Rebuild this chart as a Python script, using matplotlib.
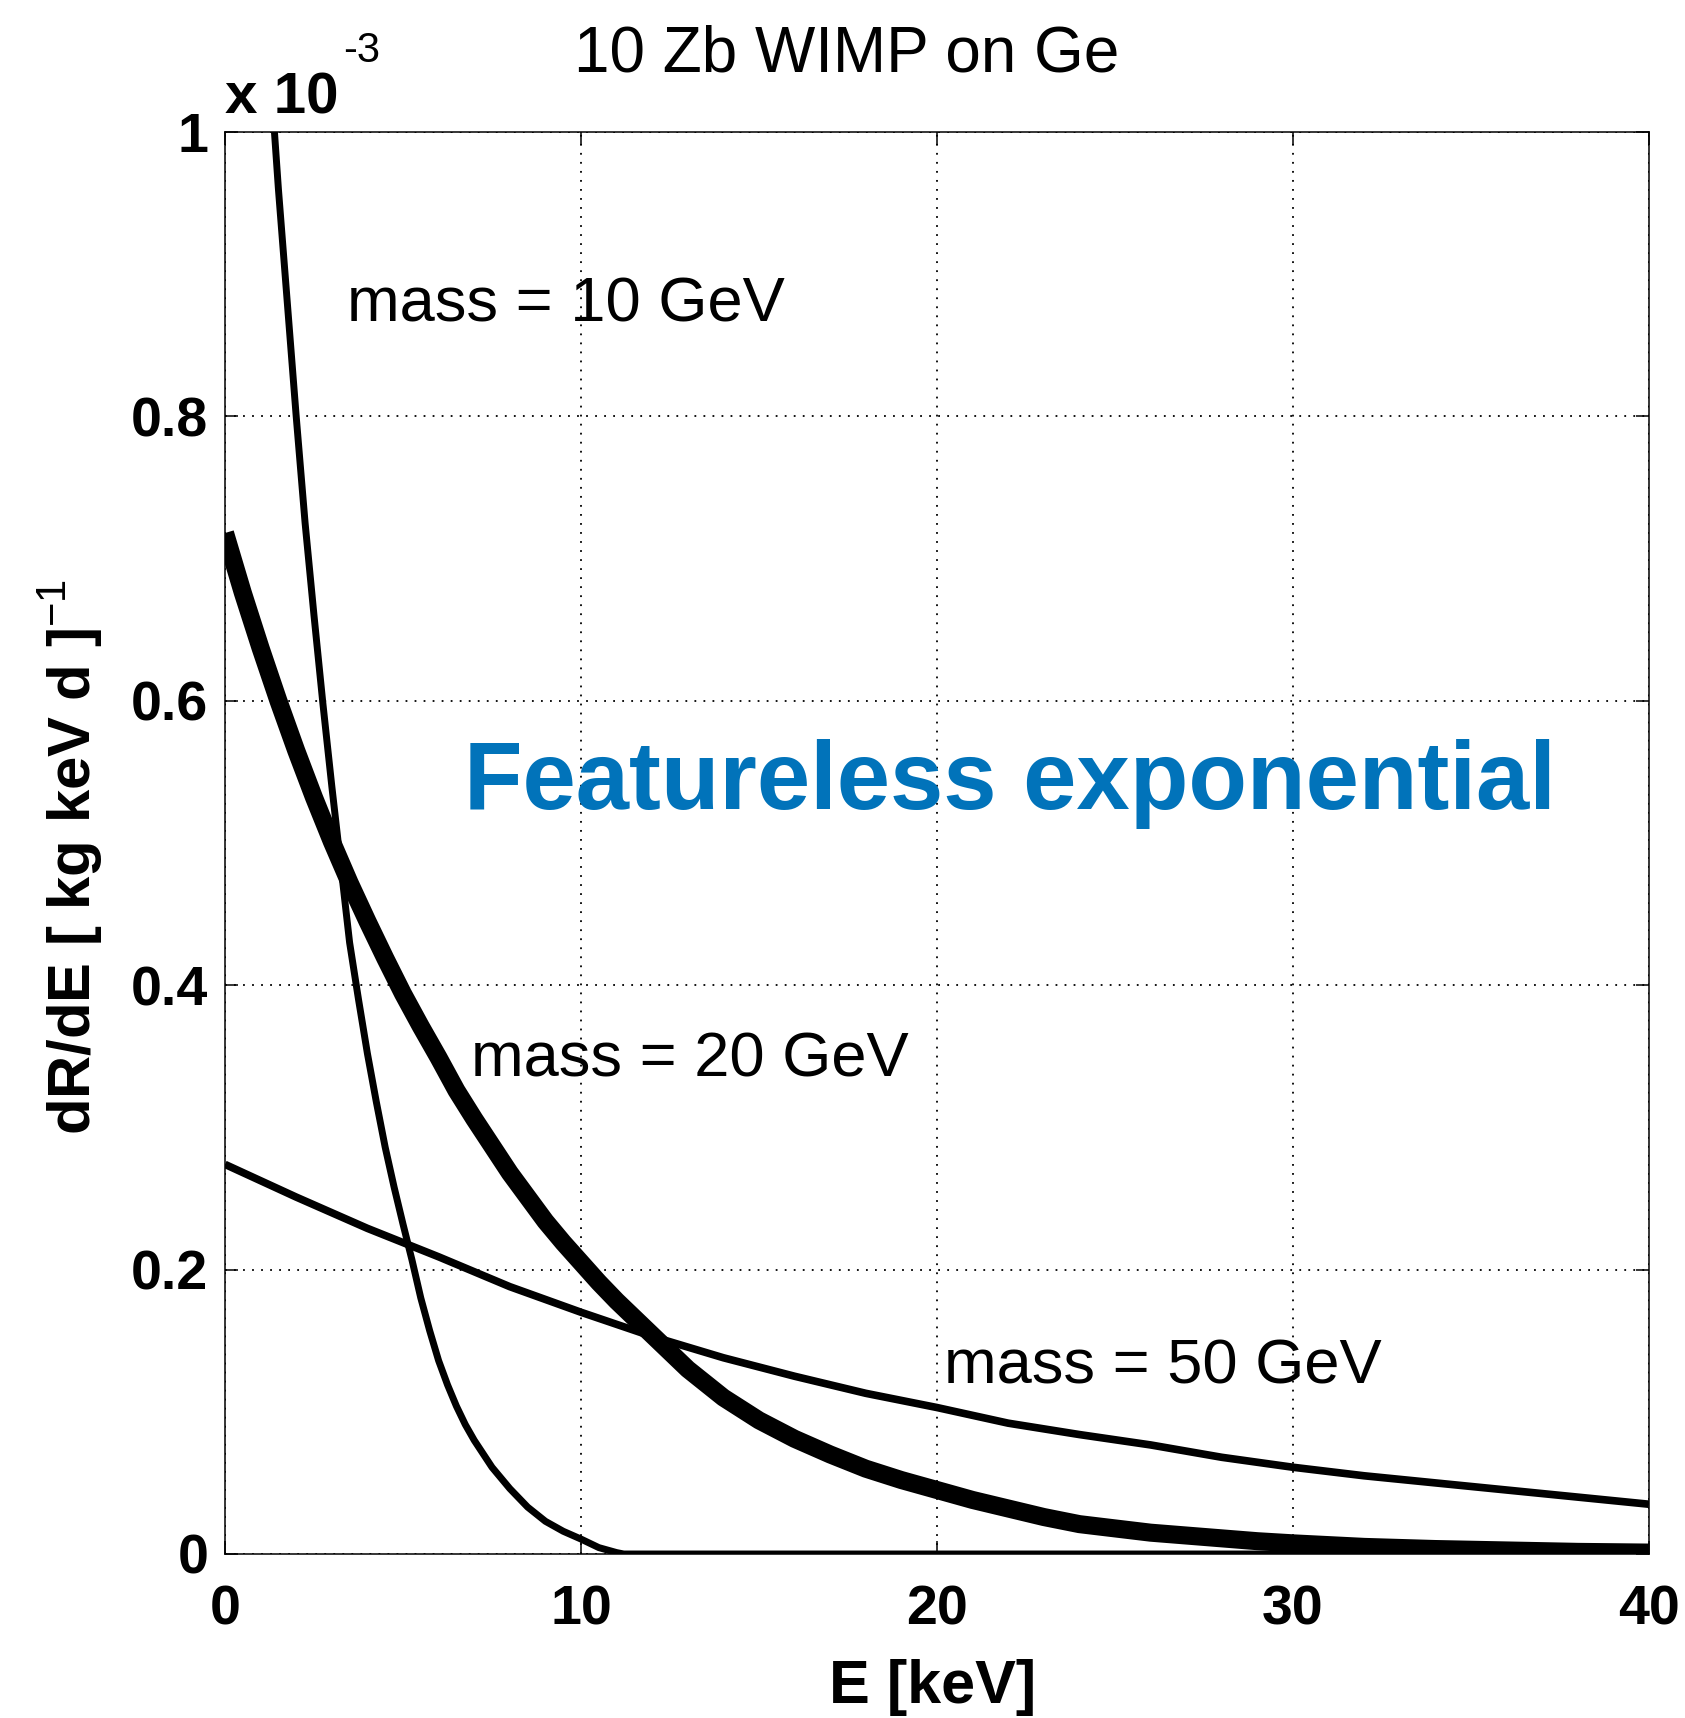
import matplotlib
matplotlib.use("Agg")
import matplotlib.pyplot as plt

plt.rcParams['font.family'] = ['Liberation Sans', 'DejaVu Sans']
plt.rcParams['mathtext.fontset'] = 'custom'
plt.rcParams['mathtext.rm'] = 'Liberation Sans'
plt.rcParams['mathtext.bf'] = 'Liberation Sans:bold'

# ---- data (dR/dE in units of 1e-3 per kg keV d) ----
E_10 = [0, 0.25, 0.5, 0.75, 1.0, 1.25, 1.5, 1.75, 2.0, 2.25, 2.5, 2.75, 3.0, 3.25,
        3.5, 3.75, 4.0, 4.25, 4.5, 4.75, 5.0, 5.25, 5.5, 5.75, 6.0, 6.25, 6.5, 6.75,
        7.0, 7.5, 8.0, 8.5, 9.0, 9.5, 10.0, 10.5, 11.0, 11.2, 40.0]
R_10 = [1.60, 1.48, 1.36, 1.25, 1.15, 1.05, 0.96, 0.88, 0.80, 0.725, 0.66, 0.598,
        0.54, 0.485, 0.43, 0.39, 0.352, 0.318, 0.286, 0.258, 0.232, 0.207, 0.18,
        0.157, 0.136, 0.119, 0.104, 0.091, 0.080, 0.061, 0.046, 0.033, 0.023, 0.016,
        0.0105, 0.0045, 0.001, 0.0, 0.0]

E_20 = [0, 0.5, 1.0, 1.5, 2.0, 2.5, 3.0, 3.5, 4.0, 4.5, 5.0, 5.5, 6.0, 6.5, 7.0,
        7.5, 8.0, 8.5, 9.0, 9.5, 10.0, 10.5, 11.0, 11.5, 12.0, 13.0, 14.0, 15.0,
        16.0, 17.0, 18.0, 19.0, 20.0, 21.0, 22.0, 23.0, 24.0, 25.0, 26.0, 27.0,
        28.0, 29.0, 30.0, 32.0, 34.0, 36.0, 38.0, 40.0]
R_20 = [0.718, 0.676, 0.637, 0.600, 0.565, 0.532, 0.501, 0.472, 0.445, 0.419,
        0.394, 0.371, 0.349, 0.326, 0.306, 0.287, 0.268, 0.251, 0.234, 0.219, 0.205,
        0.191, 0.178, 0.166, 0.154, 0.130, 0.110, 0.094, 0.081, 0.070, 0.060, 0.052,
        0.045, 0.038, 0.032, 0.026, 0.021, 0.018, 0.015, 0.013, 0.011, 0.009, 0.0075,
        0.005, 0.0035, 0.0025, 0.0015, 0.001]

E_50 = [0, 2, 4, 6, 8, 10, 12, 14, 16, 18, 20, 22, 24, 26, 28, 30, 32, 34, 36, 38, 40]
R_50 = [0.274, 0.251, 0.229, 0.209, 0.188, 0.170, 0.153, 0.138, 0.125, 0.113, 0.103,
        0.092, 0.084, 0.0767, 0.068, 0.061, 0.055, 0.050, 0.045, 0.040, 0.035]

mass_labels = ["mass = 10 GeV", "mass = 20 GeV", "mass = 50 GeV"]
label_E = [3.42, 6.92, 20.2]
label_R = [0.867, 0.336, 0.120]

x_ticks = [0, 10, 20, 30, 40]
y_ticks = [0, 0.2, 0.4, 0.6, 0.8, 1.0]
y_ticklabels = ["0", "0.2", "0.4", "0.6", "0.8", "1"]

W, H = 1685, 1718
fig = plt.figure(figsize=(W / 100, H / 100), dpi=100)
ax = fig.add_axes([225 / W, 1 - 1554 / H, (1649 - 225) / W, (1554 - 132) / H])

ax.plot(E_50, R_50, color='black', lw=5.5, solid_capstyle='butt', solid_joinstyle='round', zorder=3)
ax.plot(E_20, R_20, color='black', lw=13, solid_capstyle='butt', solid_joinstyle='round', zorder=3)
ax.plot(E_10, R_10, color='black', lw=5, solid_capstyle='butt', solid_joinstyle='round', zorder=3)

ax.set_xlim(0, 40)
ax.set_ylim(0, 1)
ax.set_xticks(x_ticks)
ax.set_xticklabels([str(t) for t in x_ticks])
ax.set_yticks(y_ticks)
ax.set_yticklabels(y_ticklabels)
ax.tick_params(direction='in', length=9.5, width=1.1, top=True, right=True,
               labelsize=40)
ax.tick_params(axis='x', pad=22)
ax.tick_params(axis='y', pad=12)
for lab in ax.get_xticklabels() + ax.get_yticklabels():
    lab.set_fontweight('bold')
for s in ax.spines.values():
    s.set_linewidth(1.1)
ax.grid(True, color='black', linestyle=(0, (1, 4)), linewidth=1.3)
ax.set_axisbelow(True)

for txt, ex, ry in zip(mass_labels, label_E, label_R):
    ax.text(ex, ry, txt, fontsize=45.5, va='baseline', ha='left', color='black', zorder=4)

ax.text(6.71, 0.524, "Featureless exponential", fontsize=69, fontweight='bold',
        color='#0173BA', va='baseline', ha='left', zorder=4)

fig.text(847 / W, 1 - 71 / H, "10 Zb WIMP on Ge", fontsize=46, ha='center', va='baseline')
fig.text(225 / W, 1 - 114 / H, "x 10", fontsize=42, fontweight='bold', ha='left', va='baseline')
fig.text(343 / W, 1 - 62 / H, "-3", fontsize=30, ha='left', va='baseline')

fig.text(71 / W, 1 - 857 / H, r"dR/dE [ kg keV d ]$^{-1}$", fontsize=43, fontweight='bold',
         rotation=90, ha='center', va='center')
fig.text(933 / W, 1 - 1703 / H, "E [keV]", fontsize=44, fontweight='bold',
         ha='center', va='baseline')

fig.savefig("out.png", dpi=100)
